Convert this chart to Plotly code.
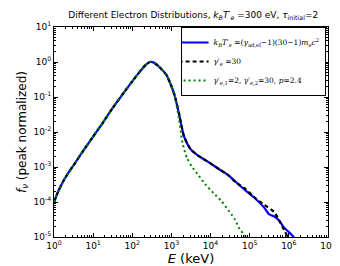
import plotly.graph_objects as go

# ---- data (E in keV, f normalized) ----
E_blue = [1.0, 1.33, 1.78, 2.37, 3.16, 5.62, 10, 17.8, 31.6, 56.2, 100, 158, 224, 282, 355, 490, 724, 871,
          1175, 1549, 2089, 3090, 5012, 8913, 15849, 28184, 41687, 74131, 131826, 234423,
          309030, 416869, 562341, 741310, 1000000, 1318257, 1584893]
f_blue = [1e-4, 2.2e-4, 4.17e-4, 7.0e-4, 1.12e-3, 2.95e-3, 7.41e-3, 1.86e-2, 4.90e-2, 0.118, 0.28, 0.54, 0.84,
          1.0, 0.96, 0.72, 0.447, 0.295, 0.123, 0.0347, 7.59e-3, 3.24e-3, 2.04e-3, 1.38e-3,
          8.91e-4, 5.89e-4, 3.98e-4, 2.24e-4, 1.32e-4, 6.92e-5, 4.5e-5, 3.9e-5, 2.95e-5,
          1.91e-5, 1.38e-5, 1e-5, 7.08e-6]

E_black = [1.0, 1.33, 1.78, 2.37, 3.16, 5.62, 10, 17.8, 31.6, 56.2, 100, 158, 224, 282, 355, 490, 724, 871,
           1175, 1549, 2089, 3090, 5012, 8913, 15849, 28184, 41687, 74131, 138038, 234423,
           416869, 562341, 741310, 933254, 1122018]
f_black = [1e-4, 2.2e-4, 4.17e-4, 7.0e-4, 1.12e-3, 2.95e-3, 7.41e-3, 1.86e-2, 4.90e-2, 0.118, 0.28, 0.54, 0.84,
           1.0, 0.96, 0.72, 0.447, 0.295, 0.123, 0.0347, 7.59e-3, 3.24e-3, 2.04e-3, 1.38e-3,
           8.91e-4, 5.89e-4, 3.80e-4, 2.45e-4, 1.30e-4, 8.32e-5, 5.25e-5, 3.02e-5, 1.66e-5,
           1e-5, 6.3e-6]

E_green = [1.0, 1.33, 1.78, 2.37, 3.16, 5.62, 10, 17.8, 31.6, 56.2, 100, 158, 224, 282, 355, 490, 724, 871,
           1175, 1549, 1905, 2512, 3388, 5012, 7244, 12023, 19055, 33884, 41687, 54954, 81283, 100000]
f_green = [1e-4, 2.2e-4, 4.17e-4, 7.0e-4, 1.12e-3, 2.95e-3, 7.41e-3, 1.86e-2, 4.90e-2, 0.118, 0.28, 0.54, 0.84,
           1.0, 0.96, 0.72, 0.447, 0.295, 0.123, 0.0251, 5.01e-3, 1.78e-3, 1e-3, 5.62e-4,
           3.24e-4, 1.78e-4, 1.05e-4, 4.47e-5, 3.24e-5, 1.70e-5, 1e-5, 6.3e-6]

x_tickvals = [1, 10, 100, 1e3, 1e4, 1e5, 1e6, 1e7]
x_ticktext = ["10<sup>%d</sup>" % i for i in range(0, 8)]
y_tickvals = [1e-5, 1e-4, 1e-3, 1e-2, 1e-1, 1, 10]
y_ticktext = ["10<sup>%d</sup>" % i for i in range(-5, 2)]

names = [
    "<i>k</i><sub><i>B</i></sub><i>T</i>′<sub><i>e</i></sub> =(<i>γ</i><sub>ad,el</sub>−1)(30−1)<i>m</i><sub><i>e</i></sub><i>c</i><sup>2</sup>",
    "<i>γ</i>′<sub><i>e</i></sub> =30",
    "<i>γ</i>′<sub><i>e</i>,1</sub>=2, <i>γ</i>′<sub><i>e</i>,2</sub>=30, <i>p</i>=2.4",
]

fig = go.Figure()
fig.add_trace(go.Scatter(x=E_blue, y=f_blue, mode="lines", name=names[0],
                         line=dict(color="#0000ff", width=2.2, shape="spline", smoothing=0.6)))
fig.add_trace(go.Scatter(x=E_black, y=f_black, mode="lines", name=names[1],
                         line=dict(color="#000000", width=2.2, dash="4px,3px", shape="spline", smoothing=0.6)))
fig.add_trace(go.Scatter(x=E_green, y=f_green, mode="lines", name=names[2],
                         line=dict(color="#008000", width=2, dash="2px,3px", shape="spline", smoothing=0.6)))

axis_common = dict(
    type="log", showgrid=False, zeroline=False, showline=True, linecolor="black", linewidth=1,
    mirror="ticks", ticks="inside", ticklen=4, tickcolor="black", tickwidth=1,
    tickfont=dict(family="DejaVu Sans", size=9, color="black"),
    minor=dict(ticks="inside", ticklen=2, tickcolor="black", tickwidth=1, dtick="D1", showgrid=False),
)

fig.update_layout(
    width=340, height=266,
    margin=dict(l=46, r=15, t=15, b=36, pad=0),
    paper_bgcolor="white", plot_bgcolor="white",
    title=dict(text="Different Electron Distributions, <i>k</i><sub><i>B</i></sub><i>T</i>′<sub><i>e</i></sub> =300 eV, <i>τ</i><sub>initial</sub>=2",
               x=0.545, xanchor="center", y=0.975, yanchor="middle",
               font=dict(family="DejaVu Sans", size=9, color="black")),
    xaxis=dict(axis_common, range=[0, 7], tickvals=x_tickvals, ticktext=x_ticktext,
               title=dict(text="<i>E</i> (keV)", font=dict(family="DejaVu Sans", size=13, color="black"), standoff=2)),
    yaxis=dict(axis_common, range=[-5, 1], tickvals=y_tickvals, ticktext=y_ticktext,
               title=dict(text="<i>f</i><sub><i>ν</i></sub> (peak normalized)", font=dict(family="DejaVu Sans", size=12, color="black"), standoff=4)),
    legend=dict(x=0.462, y=1.0, xanchor="left", yanchor="top",
                bgcolor="white", bordercolor="black", borderwidth=1,
                font=dict(family="DejaVu Serif", size=7.5, color="black"),
                itemwidth=30, tracegroupgap=0, indentation=-8),
    showlegend=True,
)

fig.write_html("out.html")
